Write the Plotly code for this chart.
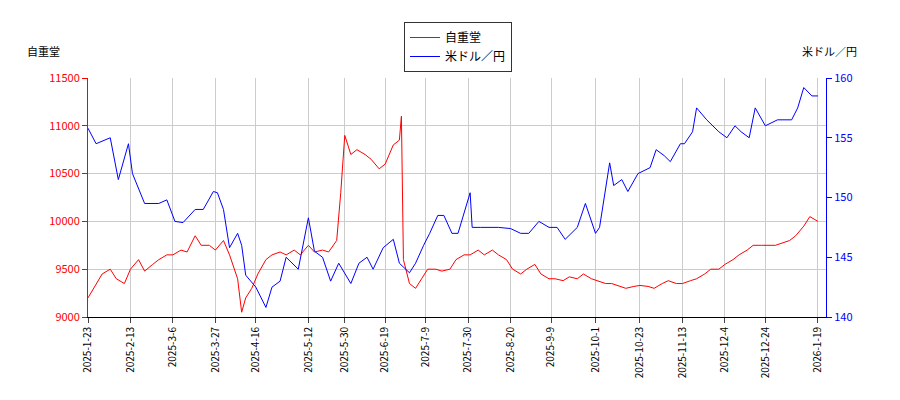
import plotly.graph_objects as go

red_dates = ["2025-01-23","2025-01-30","2025-02-03","2025-02-06","2025-02-10","2025-02-13","2025-02-17","2025-02-20","2025-02-24","2025-02-27","2025-03-03","2025-03-06","2025-03-10","2025-03-13","2025-03-17","2025-03-20","2025-03-24","2025-03-27","2025-03-31","2025-04-03","2025-04-07","2025-04-09","2025-04-11","2025-04-14","2025-04-17","2025-04-21","2025-04-24","2025-04-28","2025-05-01","2025-05-05","2025-05-08","2025-05-12","2025-05-15","2025-05-19","2025-05-22","2025-05-26","2025-05-28","2025-05-30","2025-06-02","2025-06-05","2025-06-09","2025-06-12","2025-06-16","2025-06-19","2025-06-23","2025-06-26","2025-06-27","2025-06-28","2025-07-01","2025-07-04","2025-07-07","2025-07-10","2025-07-14","2025-07-17","2025-07-21","2025-07-24","2025-07-28","2025-07-31","2025-08-04","2025-08-07","2025-08-11","2025-08-14","2025-08-18","2025-08-21","2025-08-25","2025-08-28","2025-09-01","2025-09-04","2025-09-08","2025-09-11","2025-09-15","2025-09-18","2025-09-22","2025-09-25","2025-09-29","2025-10-02","2025-10-06","2025-10-09","2025-10-13","2025-10-16","2025-10-20","2025-10-23","2025-10-27","2025-10-30","2025-11-03","2025-11-06","2025-11-10","2025-11-13","2025-11-17","2025-11-20","2025-11-24","2025-11-27","2025-12-01","2025-12-04","2025-12-08","2025-12-11","2025-12-15","2025-12-18","2025-12-22","2025-12-25","2025-12-29","2026-01-05","2026-01-08","2026-01-12","2026-01-15","2026-01-19"]
red_vals = [9200,9450,9500,9400,9350,9500,9600,9480,9550,9600,9650,9650,9700,9680,9850,9750,9750,9700,9800,9650,9400,9050,9200,9300,9450,9600,9650,9680,9650,9700,9650,9750,9680,9700,9680,9800,10300,10900,10700,10750,10700,10650,10550,10600,10800,10850,11100,9600,9350,9300,9400,9500,9500,9480,9500,9600,9650,9650,9700,9650,9700,9650,9600,9500,9450,9500,9550,9450,9400,9400,9380,9420,9400,9450,9400,9380,9350,9350,9320,9300,9320,9330,9320,9300,9350,9380,9350,9350,9380,9400,9450,9500,9500,9550,9600,9650,9700,9750,9750,9750,9750,9800,9850,9950,10050,10000]

blue_dates = ["2025-01-23","2025-01-27","2025-02-03","2025-02-07","2025-02-12","2025-02-14","2025-02-20","2025-02-27","2025-03-03","2025-03-07","2025-03-11","2025-03-17","2025-03-21","2025-03-26","2025-03-28","2025-03-31","2025-04-03","2025-04-07","2025-04-09","2025-04-11","2025-04-16","2025-04-21","2025-04-24","2025-04-28","2025-05-01","2025-05-07","2025-05-12","2025-05-15","2025-05-19","2025-05-23","2025-05-27","2025-06-02","2025-06-06","2025-06-10","2025-06-13","2025-06-18","2025-06-23","2025-06-26","2025-07-01","2025-07-04","2025-07-08","2025-07-11","2025-07-15","2025-07-18","2025-07-22","2025-07-25","2025-07-31","2025-08-01","2025-08-05","2025-08-08","2025-08-14","2025-08-20","2025-08-25","2025-08-29","2025-09-03","2025-09-08","2025-09-12","2025-09-16","2025-09-22","2025-09-26","2025-10-01","2025-10-03","2025-10-08","2025-10-10","2025-10-14","2025-10-17","2025-10-22","2025-10-28","2025-10-31","2025-11-04","2025-11-07","2025-11-12","2025-11-14","2025-11-18","2025-11-20","2025-11-25","2025-12-01","2025-12-05","2025-12-09","2025-12-12","2025-12-16","2025-12-19","2025-12-24","2025-12-30","2026-01-06","2026-01-09","2026-01-12","2026-01-16","2026-01-19"]
blue_vals = [155.8,154.5,155,151.5,154.5,152,149.5,149.5,149.8,148,147.9,149,149,150.5,150.4,149,145.8,147,146,143.5,142.5,140.8,142.5,143,145,144,148.3,145.5,145,143,144.5,142.8,144.5,145,144,145.8,146.5,144.5,143.7,144.5,146,147,148.5,148.5,147,147,150.4,147.5,147.5,147.5,147.5,147.4,147,147,148,147.5,147.5,146.5,147.5,149.5,147,147.5,152.9,151,151.5,150.5,152,152.5,154,153.5,153,154.5,154.5,155.5,157.5,156.5,155.5,155,156,155.5,155,157.5,156,156.5,156.5,157.5,159.2,158.5,158.5]

tick_vals = ["2025-01-23","2025-02-13","2025-03-06","2025-03-27","2025-04-16","2025-05-12","2025-05-30","2025-06-19","2025-07-09","2025-07-30","2025-08-20","2025-09-09","2025-10-01","2025-10-23","2025-11-13","2025-12-04","2025-12-24","2026-01-19"]
tick_text = ["2025-1-23","2025-2-13","2025-3-6","2025-3-27","2025-4-16","2025-5-12","2025-5-30","2025-6-19","2025-7-9","2025-7-30","2025-8-20","2025-9-9","2025-10-1","2025-10-23","2025-11-13","2025-12-4","2025-12-24","2026-1-19"]

fig = go.Figure()
fig.add_trace(go.Scatter(x=red_dates, y=red_vals, name="自重堂", mode="lines", line=dict(color="red", width=1)))
fig.add_trace(go.Scatter(x=blue_dates, y=blue_vals, name="米ドル／円", mode="lines", line=dict(color="blue", width=1), yaxis="y2"))
fig.update_layout(
    width=900, height=400, margin=dict(l=80, r=82, t=70, b=91, autoexpand=False),
    plot_bgcolor="white", paper_bgcolor="white",
    font=dict(family="Noto Sans CJK JP", size=11, color="black"),
    legend=dict(x=0.5, xanchor="center", y=0.965, yanchor="top", yref="container", xref="container",
                bordercolor="#333", borderwidth=1, font=dict(size=12)),
    xaxis=dict(range=["2025-01-23","2026-01-23"], tickvals=tick_vals, ticktext=tick_text, tickangle=-90, automargin=False,
               showgrid=True, gridcolor="#ccc", showline=True, linecolor="black", ticks="outside", tickfont=dict(size=10)),
    yaxis=dict(range=[9000,11500], dtick=500, tickformat="d", showgrid=True, gridcolor="#ccc", showline=True, linecolor="red",
               tickfont=dict(color="red"), ticks="outside", tickcolor="red", automargin=False),
    yaxis2=dict(range=[140,160], dtick=5, overlaying="y", side="right", showgrid=False, showline=True, linecolor="blue",
                tickfont=dict(color="blue"), ticks="outside", tickcolor="blue", automargin=False),
    annotations=[
        dict(text="自重堂", xref="paper", yref="paper", x=-0.085, y=1.07, xanchor="left", yanchor="bottom", showarrow=False),
        dict(text="米ドル／円", xref="paper", yref="paper", x=1.045, y=1.07, xanchor="right", yanchor="bottom", showarrow=False),
    ],
)
fig.write_html("out.html")
